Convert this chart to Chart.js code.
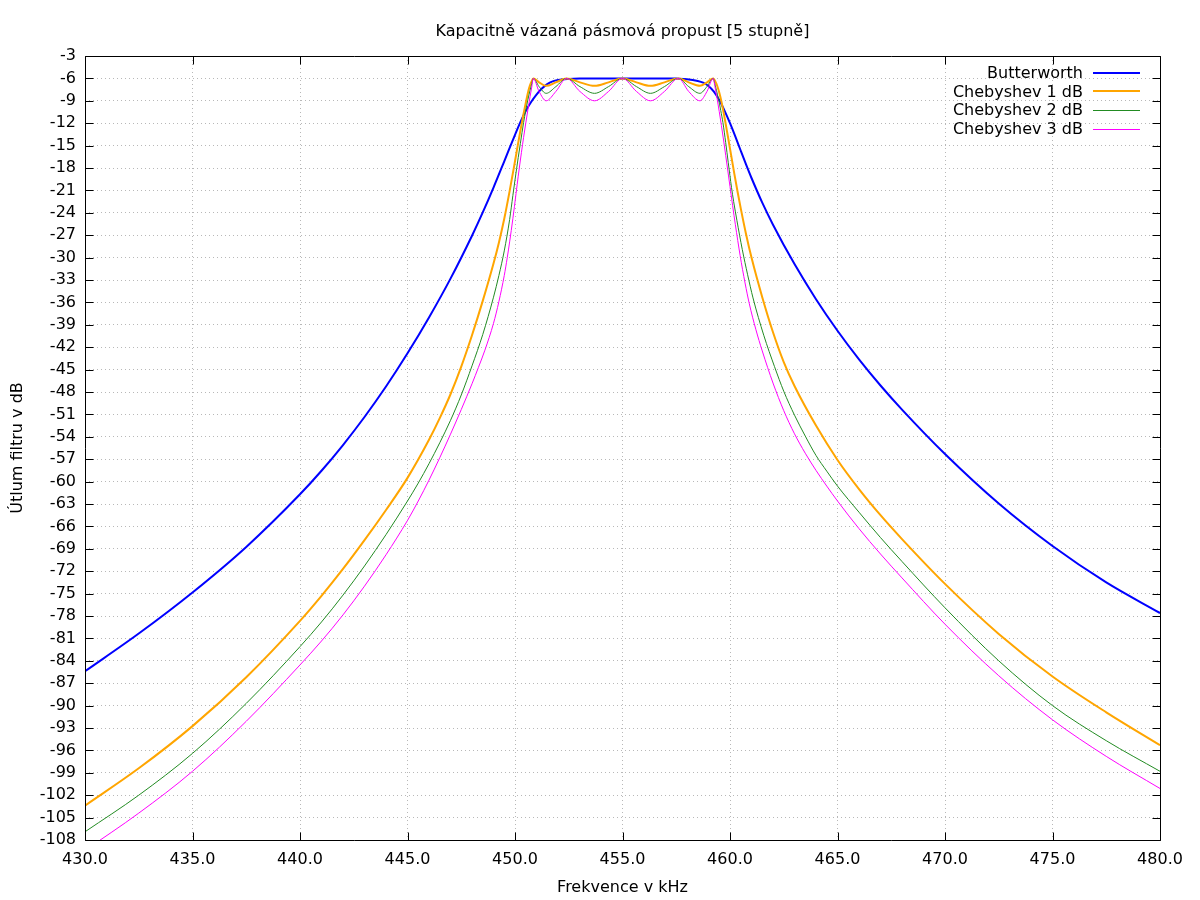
<!DOCTYPE html>
<html lang="cs">
<head>
<meta charset="UTF-8">
<title>Kapacitně vázaná pásmová propust</title>
<script src="https://cdn.jsdelivr.net/npm/chart.js"></script>
<style>
    body { margin: 0; background: #fff; }
    canvas { display: block; }
</style>
</head>
<body>
<canvas id="filterChart" width="1200" height="900"></canvas>
<script>
// values (frequency in kHz, attenuation in dB)
var butterFreq = [430, 432.5, 435, 437.5, 440, 441, 442, 443, 444, 445, 446, 447, 448, 448.5, 449, 449.5, 450, 450.25, 450.5, 450.75, 451, 451.25, 451.5, 451.75, 452, 452.5, 453, 454, 455, 456, 457, 457.5, 458, 458.5, 458.75, 459, 459.25, 459.5, 459.75, 460, 460.25, 460.5, 460.75, 461, 461.5, 462, 463, 464, 465, 466, 467, 468, 470, 472.5, 475, 477.5, 480];
var butterDb = [-85.4, -80.35, -74.85, -68.75, -61.7, -58.55, -55.1, -51.35, -47.27, -42.82, -38.02, -32.82, -27.07, -23.95, -20.62, -17.1, -13.55, -11.85, -10.36, -9.16, -8.17, -7.36, -6.76, -6.4, -6.22, -6.08, -6.02, -6.0, -6.0, -6.0, -6.0, -6.03, -6.1, -6.34, -6.57, -7.01, -7.77, -8.89, -10.34, -12.0, -13.8, -15.69, -17.55, -19.34, -22.64, -25.59, -30.87, -35.57, -39.8, -43.63, -47.13, -50.36, -56.31, -62.94, -68.63, -73.5, -77.6];

// ripple peaks and dips of the Chebyshev curves sit at the same frequencies
var passFreq = [451.12, 451.45, 451.9, 452.4, 453.02, 453.7, 454.35, 455, 455.65, 456.3, 456.95, 457.6, 458.08, 458.6, 458.93, 459.22];
var cheb1PassDb = [-6.53, -7.0, -6.53, -6.0, -6.53, -7.0, -6.53, -6.0, -6.53, -7.0, -6.53, -6.0, -6.53, -7.0, -6.53, -6.0];
var cheb2PassDb = [-7.1, -8.0, -7.1, -6.0, -7.1, -8.0, -7.1, -6.0, -7.1, -8.0, -7.1, -6.0, -7.1, -8.0, -7.1, -6.0];
var cheb3PassDb = [-7.75, -9.0, -7.75, -6.0, -7.75, -9.0, -7.75, -6.0, -7.75, -9.0, -7.75, -6.0, -7.75, -9.0, -7.75, -6.0];

var cheb1LowFreq = [430, 432.5, 435, 437.5, 440, 441, 442, 443, 444, 445, 446, 446.5, 447, 447.5, 448, 448.5, 449, 449.25, 449.5, 449.75, 450, 450.25, 450.5, 450.65, 450.75, 450.85];
var cheb1LowDb = [-103.4, -98.4, -92.75, -86.2, -78.65, -75.3, -71.7, -67.85, -63.8, -59.5, -54.4, -51.5, -48.3, -44.6, -40.4, -35.8, -30.8, -28.0, -24.8, -21.1, -17.1, -13.0, -9.3, -7.35, -6.55, -6.0];
var cheb1HighFreq = [459.3, 459.4, 459.5, 459.6, 459.75, 459.9, 460.05, 460.2, 460.35, 460.5, 460.75, 461, 461.5, 462, 462.5, 463, 464, 465, 466, 467, 468, 470, 472.5, 475, 477.5, 480];
var cheb1HighDb = [-6.3, -6.95, -7.9, -9.1, -11.3, -13.75, -16.25, -18.75, -21.15, -23.4, -26.9, -30.0, -35.3, -40.0, -44.0, -47.2, -52.5, -57.1, -61.0, -64.5, -67.7, -73.7, -80.4, -86.1, -90.9, -95.3];

var cheb2LowFreq = [430, 432.5, 435, 437.5, 440, 441, 442, 443, 444, 445, 445.5, 446, 446.5, 447, 447.5, 448, 448.5, 449, 449.25, 449.5, 449.75, 449.9, 450, 450.15, 450.25, 450.4, 450.5, 450.6, 450.7, 450.78, 450.85];
var cheb2LowDb = [-106.9, -102.0, -96.4, -89.7, -82.1, -78.8, -75.2, -71.3, -67.1, -62.6, -60.2, -57.6, -54.8, -51.8, -48.4, -44.5, -40.3, -35.3, -32.4, -29.1, -24.9, -21.7, -19.6, -16.6, -14.7, -11.9, -10.3, -8.85, -7.6, -6.7, -6.0];
var cheb2HighFreq = [459.29, 459.37, 459.47, 459.57, 459.67, 459.8, 459.92, 460.07, 460.17, 460.32, 460.57, 460.82, 461.07, 461.57, 462.07, 462.5, 463, 463.5, 464, 464.5, 465, 466, 467, 468, 470, 472.5, 475, 477.5, 480];
var cheb2HighDb = [-6.7, -7.6, -8.85, -10.3, -11.9, -14.6, -17.3, -20.6, -22.5, -25.0, -28.9, -32.3, -35.4, -40.4, -44.6, -47.9, -51.1, -53.9, -56.5, -58.6, -60.6, -64.1, -67.5, -70.7, -76.9, -84.0, -90.0, -94.7, -98.8];

var cheb3LowFreq = [430, 432.5, 435, 437.5, 440, 441, 442, 443, 444, 445, 445.5, 446, 446.5, 447, 447.5, 448, 448.3, 448.6, 449, 449.25, 449.5, 449.64, 449.75, 449.9, 450.05, 450.15, 450.3, 450.4, 450.5, 450.6, 450.7, 450.78, 450.85];
var cheb3LowDb = [-109.4, -104.4, -98.8, -92.1, -84.55, -81.35, -77.85, -74.0, -69.8, -65.2, -62.6, -59.8, -56.8, -53.65, -50.35, -46.9, -44.7, -42.4, -38.8, -35.9, -32.4, -30.0, -27.9, -24.8, -21.4, -19.1, -15.9, -13.9, -12.0, -10.2, -8.45, -7.15, -6.0];
var cheb3HighFreq = [459.3, 459.4, 459.5, 459.6, 459.7, 459.8, 459.9, 460.0, 460.12, 460.25, 460.47, 460.7, 460.9, 461.2, 461.5, 462, 462.5, 463, 463.5, 464, 464.5, 465, 466, 467, 468, 470, 472.5, 475, 477.5, 480];
var cheb3HighDb = [-7.1, -8.7, -10.45, -12.3, -14.25, -16.3, -18.4, -20.5, -23.0, -25.6, -29.7, -33.4, -36.2, -39.6, -42.5, -46.8, -50.5, -53.6, -56.2, -58.5, -60.6, -62.6, -66.3, -69.7, -72.9, -79.1, -86.0, -91.9, -96.8, -101.1];

var xTicks = { min: 430, max: 480, step: 5 };
var yTicks = { min: -108, max: -3, step: 3 };

function toPoints(freq, db) {
    return freq.map(function (f, i) { return { x: f, y: db[i] }; });
}

function chebPoints(lowF, lowDb, passDb, highF, highDb) {
    return toPoints(lowF.concat(passFreq, highF), lowDb.concat(passDb, highDb));
}

var font = 'DejaVu Sans';

// frame, inward ticks (mirrored), title and key drawn like gnuplot does
var framePlugin = {
    id: 'frame',
    afterDraw: function (chart) {
        var ctx = chart.ctx;
        var a = chart.chartArea;
        var xs = chart.scales.x, ys = chart.scales.y;
        var L = Math.round(a.left) + 0.5, R = Math.round(a.right) + 0.5;
        var T = Math.round(a.top) + 0.5, B = Math.round(a.bottom) + 0.5;
        ctx.save();
        ctx.strokeStyle = '#000';
        ctx.lineWidth = 1;
        ctx.beginPath();
        ctx.rect(L, T, R - L, B - T);
        var tl = 8;
        xs.ticks.forEach(function (t) {
            var px = Math.round(xs.getPixelForValue(t.value)) + 0.5;
            ctx.moveTo(px, B); ctx.lineTo(px, B - tl);
            ctx.moveTo(px, T); ctx.lineTo(px, T + tl);
        });
        ys.ticks.forEach(function (t) {
            var py = Math.round(ys.getPixelForValue(t.value)) + 0.5;
            ctx.moveTo(L, py); ctx.lineTo(L + tl, py);
            ctx.moveTo(R, py); ctx.lineTo(R - tl, py);
        });
        ctx.stroke();

        // title
        ctx.fillStyle = '#000';
        ctx.font = '16px "' + font + '"';
        ctx.textAlign = 'center';
        ctx.textBaseline = 'alphabetic';
        ctx.fillText('Kapacitně vázaná pásmová propust [5 stupně]', (a.left + a.right) / 2, 36);

        // key, top right inside the plot
        ctx.textAlign = 'right';
        chart.data.datasets.forEach(function (ds, i) {
            var y = 72.5 + i * 18.7;
            var off = ds.borderWidth % 2 ? 0.5 : 0;
            ctx.fillText(ds.label, 1083, y + 5.5);
            ctx.beginPath();
            ctx.strokeStyle = ds.borderColor;
            ctx.lineWidth = ds.borderWidth;
            ctx.moveTo(1093, Math.round(y) + off);
            ctx.lineTo(1140, Math.round(y) + off);
            ctx.stroke();
        });
        ctx.restore();
    }
};

var ctx = document.getElementById('filterChart').getContext('2d');
new Chart(ctx, {
    type: 'line',
    data: {
        datasets: [
            { label: 'Butterworth', data: toPoints(butterFreq, butterDb), borderColor: '#0000ff', borderWidth: 2, order: 4 },
            { label: 'Chebyshev 1 dB', data: chebPoints(cheb1LowFreq, cheb1LowDb, cheb1PassDb, cheb1HighFreq, cheb1HighDb), borderColor: '#ffa500', borderWidth: 2, order: 3 },
            { label: 'Chebyshev 2 dB', data: chebPoints(cheb2LowFreq, cheb2LowDb, cheb2PassDb, cheb2HighFreq, cheb2HighDb), borderColor: '#228b22', borderWidth: 1, order: 2 },
            { label: 'Chebyshev 3 dB', data: chebPoints(cheb3LowFreq, cheb3LowDb, cheb3PassDb, cheb3HighFreq, cheb3HighDb), borderColor: '#ff00ff', borderWidth: 1, order: 1 }
        ]
    },
    options: {
        responsive: false,
        animation: false,
        devicePixelRatio: 1,
        layout: { padding: { top: 56, right: 40, left: 0, bottom: 0 } },
        elements: {
            point: { radius: 0 },
            line: { cubicInterpolationMode: 'monotone', fill: false }
        },
        datasets: { line: { clip: 0 } },
        plugins: {
            legend: { display: false },
            tooltip: { enabled: false },
            title: { display: false }
        },
        scales: {
            x: {
                type: 'linear',
                min: xTicks.min,
                max: xTicks.max,
                afterFit: function (s) { s.height = 60; },
                ticks: {
                    stepSize: xTicks.step,
                    autoSkip: false,
                    maxRotation: 0,
                    padding: 10,
                    color: '#000',
                    font: { family: font, size: 16 },
                    callback: function (v) { return v.toFixed(1); }
                },
                grid: { color: '#b8b8b8', lineWidth: 1, drawTicks: false },
                border: { display: false, dash: [1, 3] },
                title: {
                    display: true,
                    text: 'Frekvence v kHz',
                    color: '#000',
                    font: { family: font, size: 16 },
                    padding: { top: 0, bottom: 3 }
                }
            },
            y: {
                type: 'linear',
                min: yTicks.min,
                max: yTicks.max,
                afterFit: function (s) { s.width = 85; },
                ticks: {
                    stepSize: yTicks.step,
                    autoSkip: false,
                    padding: 9,
                    color: '#000',
                    font: { family: font, size: 16 },
                    callback: function (v) { return String(v); }
                },
                grid: { color: '#b8b8b8', lineWidth: 1, drawTicks: false },
                border: { display: false, dash: [1, 3] },
                title: {
                    display: true,
                    text: 'Útlum filtru v dB',
                    color: '#000',
                    font: { family: font, size: 16 },
                    padding: { top: 8, bottom: 0 }
                }
            }
        }
    },
    plugins: [framePlugin]
});
</script>
</body>
</html>
